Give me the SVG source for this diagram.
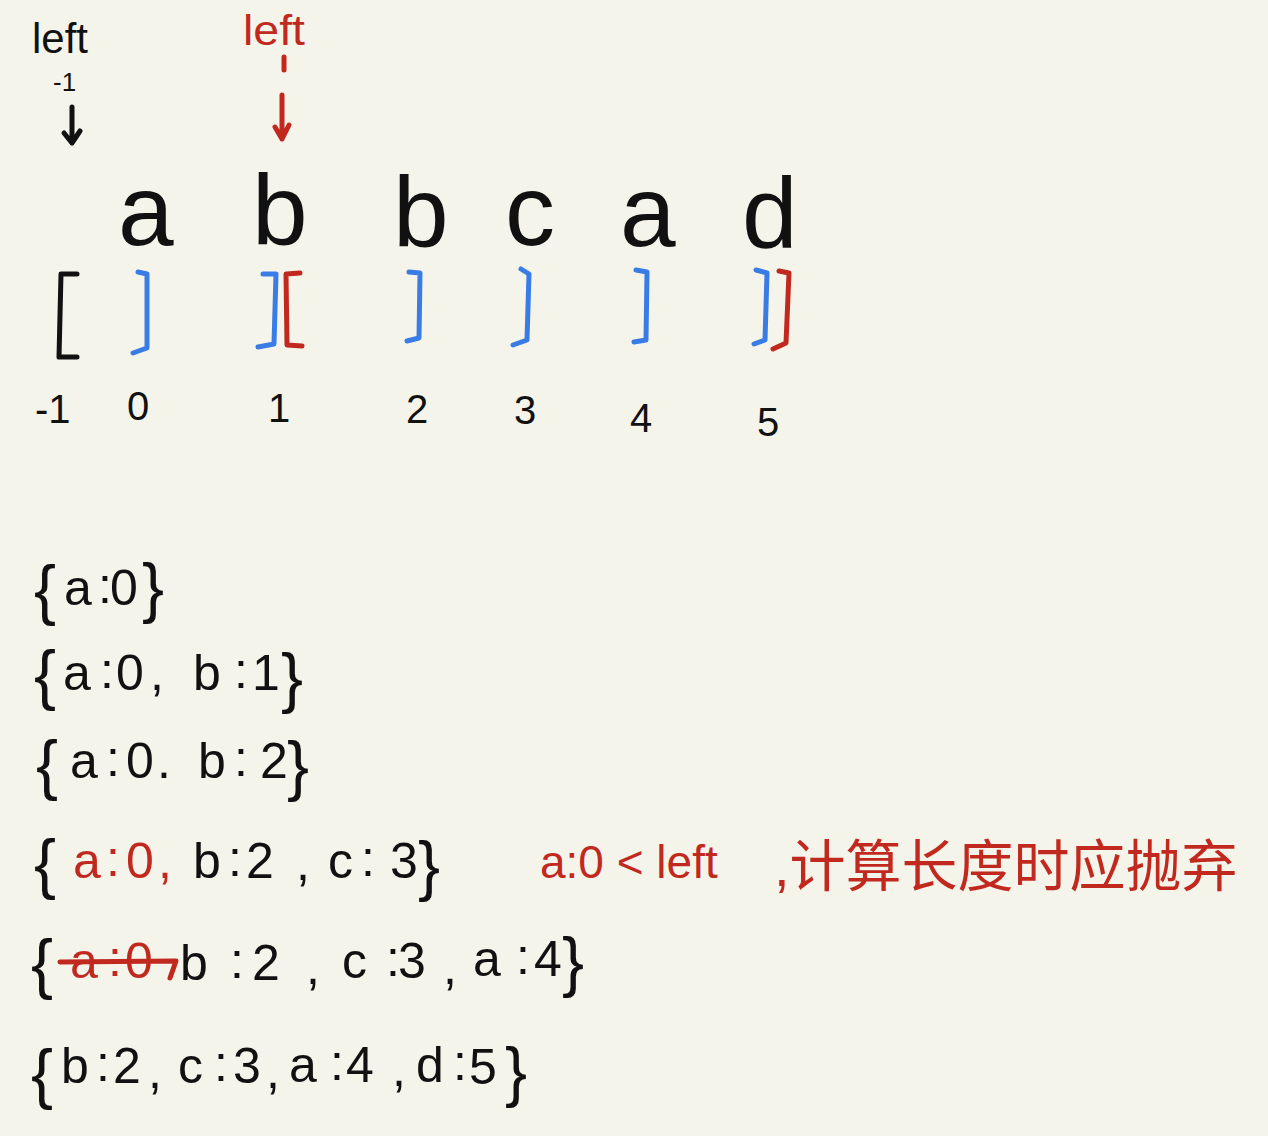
<svg xmlns="http://www.w3.org/2000/svg" width="1268" height="1136" viewBox="0 0 1268 1136">
<style>
.k{fill:#111;font-family:"Liberation Sans","Noto Sans CJK SC",sans-serif}
.r{fill:#c1291f;font-family:"Liberation Sans","Noto Sans CJK SC",sans-serif}
.big{font-size:100px}
.m{font-size:50px}
.bc{font-size:66px}
.bk{fill:none;stroke:#111;stroke-width:5;stroke-linecap:round;stroke-linejoin:round}
.bb{fill:none;stroke:#3a7ce6;stroke-width:5;stroke-linecap:round;stroke-linejoin:round}
.br{fill:none;stroke:#c1291f;stroke-width:5;stroke-linecap:round;stroke-linejoin:round}
</style>
<rect width="1268" height="1136" fill="#f5f4eb"/>

<g id="left-black">
<text class="k" x="32" y="53" font-size="42" textLength="56" lengthAdjust="spacingAndGlyphs">left</text>
<text class="k" x="53" y="91" font-size="26">-1</text>
<path class="bk" d="M72 107 L72 143 M64 133 L72 143 L80 131" stroke-width="3.5"/>
</g>
<g id="left-red">
<text class="r" x="243" y="45" font-size="42" textLength="62" lengthAdjust="spacingAndGlyphs">left</text>
<path class="br" d="M284 57 L284 70" stroke-width="4"/>
<path class="br" d="M282 95 L282 139 M275 127 L282 139 L289 125" stroke-width="3.5"/>
</g>

<g id="letters" class="k big">
<text x="118" y="245">a</text>
<text x="252" y="245">b</text>
<text x="393" y="247">b</text>
<text x="505" y="245">c</text>
<text x="620" y="246">a</text>
<text x="742" y="248">d</text>
</g>

<g id="brackets">
<path class="bk" d="M77 274 L61 274 L59 357 L77 357"/>
<path class="bb" d="M138 272 L147 274 L147 348 L133 353"/>
<path class="bb" d="M263 274 L276 274 L274 344 L258 347"/>
<path class="br" d="M300 273 L286 274 L287 345 L302 346"/>
<path class="bb" d="M409 272 L420 273 L419 338 L407 341"/>
<path class="bb" d="M521 269 L529 274 L527 340 L513 345"/>
<path class="bb" d="M636 270 L647 272 L646 340 L634 342"/>
<path class="bb" d="M756 270 L767 273 L765 340 L754 344"/>
<path class="br" d="M779 271 L789 273 L786 343 L773 349"/>
</g>

<g id="indices" class="k" font-size="40">
<text x="35" y="423">-1</text>
<text x="127" y="420">0</text>
<text x="268" y="422">1</text>
<text x="406" y="423">2</text>
<text x="514" y="424">3</text>
<text x="630" y="432">4</text>
<text x="757" y="436">5</text>
</g>

<g id="map1" class="k m">
<text class="bc" x="34" y="612">{</text><text x="64" y="605">a</text><text x="98" y="603">:</text><text x="110" y="605">0</text><text class="bc" x="142" y="610">}</text>
</g>
<g id="map2" class="k m">
<text class="bc" x="34" y="697">{</text><text x="63" y="690">a</text><text x="100" y="688">:</text><text x="116" y="690">0</text><text x="150" y="690">,</text><text x="193" y="690">b</text><text x="234" y="688">:</text><text x="252" y="690">1</text><text class="bc" x="281" y="700">}</text>
</g>
<g id="map3" class="k m">
<text class="bc" x="36" y="787">{</text><text x="70" y="778">a</text><text x="106" y="776">:</text><text x="126" y="778">0</text><text x="157" y="778">.</text><text x="198" y="778">b</text><text x="234" y="776">:</text><text x="260" y="778">2</text><text class="bc" x="287" y="788">}</text>
</g>
<g id="map4" class="m">
<text class="k bc" x="34" y="886">{</text>
<text class="r" x="73" y="878">a</text><text class="r" x="106" y="876">:</text><text class="r" x="126" y="878">0</text><text class="r" x="158" y="878">,</text>
<text class="k" x="193" y="878">b</text><text class="k" x="228" y="876">:</text><text class="k" x="246" y="878">2</text><text class="k" x="296" y="880">,</text><text class="k" x="328" y="878">c</text><text class="k" x="361" y="876">:</text><text class="k" x="390" y="878">3</text><text class="k bc" x="418" y="888">}</text>
</g>
<g id="note" class="r">
<text x="540" y="878" font-size="46">a:0 &lt; left</text>
<text x="774" y="886" font-size="56">,计算长度时应抛弃</text>
</g>
<g id="map5" class="m">
<text class="k bc" x="31" y="986">{</text>
<text class="r" x="70" y="978">a</text><text class="r" x="108" y="976">:</text><text class="r" x="125" y="978">0</text>
<path class="br" d="M60 962 L176 961 L170 978" stroke-width="5"/>
<text class="k" x="180" y="980">b</text><text class="k" x="230" y="978">:</text><text class="k" x="252" y="980">2</text><text class="k" x="306" y="984">,</text><text class="k" x="342" y="978">c</text><text class="k" x="386" y="976">:</text><text class="k" x="398" y="978">3</text><text class="k" x="443" y="984">,</text><text class="k" x="473" y="976">a</text><text class="k" x="516" y="974">:</text><text class="k" x="534" y="976">4</text><text class="k bc" x="562" y="984">}</text>
</g>
<g id="map6" class="k m">
<text class="bc" x="31" y="1096">{</text><text x="61" y="1083">b</text><text x="96" y="1081">:</text><text x="113" y="1083">2</text><text x="148" y="1088">,</text><text x="178" y="1083">c</text><text x="214" y="1081">:</text><text x="233" y="1083">3</text><text x="266" y="1088">,</text><text x="289" y="1082">a</text><text x="330" y="1080">:</text><text x="346" y="1082">4</text><text x="392" y="1086">,</text><text x="416" y="1082">d</text><text x="453" y="1080">:</text><text x="469" y="1084">5</text><text class="bc" x="505" y="1094">}</text>
</g>
</svg>
